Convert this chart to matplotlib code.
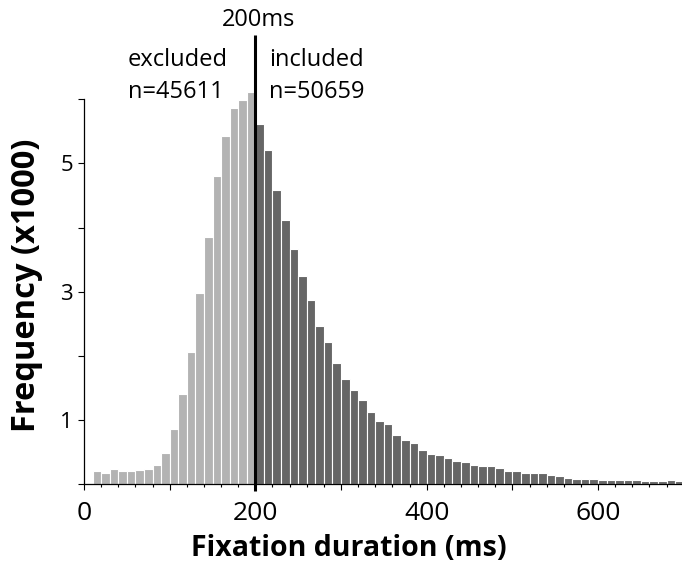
import numpy as np
import matplotlib.pyplot as plt
from matplotlib.ticker import MultipleLocator, FuncFormatter

# histogram bins (ms), 10 ms wide, and counts in thousands
excluded_bins = np.arange(10, 200, 10)
excluded_counts = [0.20, 0.17, 0.24, 0.20, 0.20, 0.22, 0.24, 0.30, 0.48, 0.86,
                   1.41, 2.06, 2.98, 3.85, 4.81, 5.43, 5.86, 5.98, 6.11]
included_bins = np.arange(200, 700, 10)
included_counts = [5.62, 5.20, 4.58, 4.12, 3.66, 3.25, 2.87, 2.46, 2.21, 1.89,
                   1.64, 1.47, 1.31, 1.13, 0.99, 0.94, 0.77, 0.69, 0.65, 0.54,
                   0.47, 0.46, 0.41, 0.36, 0.34, 0.30, 0.28, 0.28, 0.25, 0.20,
                   0.20, 0.17, 0.17, 0.17, 0.14, 0.13, 0.10, 0.09, 0.09, 0.09,
                   0.07, 0.07, 0.07, 0.07, 0.065, 0.05, 0.045, 0.045, 0.06, 0.045]
threshold = 200
n_excluded = 45611
n_included = 50659

plt.rcParams['font.family'] = ['Open Sans', 'DejaVu Sans']

fig = plt.figure(figsize=(6.82, 5.64), dpi=100)
ax = fig.add_axes([0.1232, 0.1413, 0.8768, 0.7057])

ax.bar(excluded_bins, excluded_counts, width=10, align='edge',
       color='#b3b3b3', edgecolor='white', linewidth=0.8)
ax.bar(included_bins, included_counts, width=10, align='edge',
       color='#666666', edgecolor='white', linewidth=0.8)

ax.set_xlim(0, 698)
ax.set_ylim(0, 6.2)

# threshold line sticking out above the axes
ax.plot([threshold, threshold], [-0.1, 7.0], color='black', lw=2.2,
        clip_on=False, solid_capstyle='butt', zorder=5)
ax.text(threshold + 4, 7.14, '200ms', ha='center', va='baseline', fontsize=17)
ax.text(51, 6.52, 'excluded', ha='left', va='baseline', fontsize=17)
ax.text(51, 6.01, f'n={n_excluded}', ha='left', va='baseline', fontsize=17)
ax.text(216, 6.52, 'included', ha='left', va='baseline', fontsize=17)
ax.text(216, 6.01, f'n={n_included}', ha='left', va='baseline', fontsize=17)

ax.spines['top'].set_visible(False)
ax.spines['right'].set_visible(False)
ax.spines['left'].set_bounds(0, 6)
for s in ['left', 'bottom']:
    ax.spines[s].set_linewidth(0.9)

ax.xaxis.set_major_locator(MultipleLocator(100))
ax.xaxis.set_minor_locator(MultipleLocator(20))
ax.xaxis.set_major_formatter(FuncFormatter(lambda v, p: f'{int(v)}' if v % 200 == 0 else ''))
ax.yaxis.set_major_locator(MultipleLocator(1))
ax.yaxis.set_major_formatter(FuncFormatter(lambda v, p: f'{int(v)}' if int(v) % 2 == 1 else ''))

ax.tick_params(axis='x', which='major', length=4, width=0.8, labelsize=19, pad=8)
ax.tick_params(axis='x', which='minor', length=2, width=0.8)
ax.tick_params(axis='y', length=4, width=0.8, labelsize=16, pad=4)

ax.set_xlabel('Fixation duration (ms)', fontsize=20.5, fontweight='bold')
ax.xaxis.set_label_coords(0.443, -0.125)
ax.set_ylabel('Frequency (x1000)', fontsize=23.5, fontweight='bold')
ax.yaxis.set_label_coords(-0.068, 0.5)

fig.savefig('out.png', dpi=100)
